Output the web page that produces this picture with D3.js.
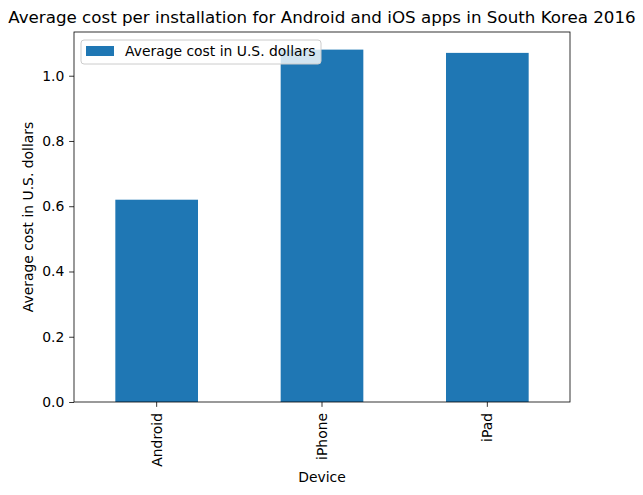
<!DOCTYPE html>
<html><head><meta charset="utf-8">
<script src="https://cdn.jsdelivr.net/npm/d3@7"></script>
<style>body{margin:0;background:#fff}svg{display:block;font-family:"DejaVu Sans",sans-serif}</style>
</head><body><svg id="c" width="643" height="495"></svg>
<script>
const categories = ["Android", "iPhone", "iPad"];
const values = [0.62, 1.08, 1.07];
const yTicks = [0.0, 0.2, 0.4, 0.6, 0.8, 1.0];
const seriesName = "Average cost in U.S. dollars";
const title = "Average cost per installation for Android and iOS apps in South Korea 2016";

const svg = d3.select("#c");
const L = 74, R = 570, T = 32, B = 402;
const x = d3.scaleBand().domain(categories).range([L, R]).paddingInner(0.5).paddingOuter(0.25);
const y = d3.scaleLinear().domain([0, d3.max(values) * 1.05]).range([B, T]);
const color = "#1f77b4";

svg.append("g").selectAll("rect").data(values).join("rect")
  .attr("x", (d, i) => x(categories[i]))
  .attr("y", d => y(d))
  .attr("width", x.bandwidth())
  .attr("height", d => B - y(d))
  .attr("fill", color);

const ya = svg.append("g").attr("transform", `translate(${L},0)`)
  .call(d3.axisLeft(y).tickValues(yTicks).tickFormat(d3.format(".1f")).tickSizeOuter(0).tickSize(4.86).tickPadding(4.86));
const xa = svg.append("g").attr("transform", `translate(0,${B})`)
  .call(d3.axisBottom(x).tickSizeOuter(0).tickSize(4.86).tickPadding(4.86));
[ya, xa].forEach(a => {
  a.select(".domain").remove();
  a.selectAll("text").attr("font-size", "13.9px").attr("fill", "#000").attr("font-family", "DejaVu Sans");
  a.selectAll("line").attr("stroke", "#000").attr("stroke-width", 0.8);
});
xa.selectAll("text")
  .attr("transform", "rotate(-90)")
  .attr("x", -11).attr("y", 0).attr("dy", "0.35em")
  .attr("text-anchor", "end");

svg.append("rect").attr("x", L).attr("y", T).attr("width", R - L).attr("height", B - T)
  .attr("fill", "none").attr("stroke", "#000").attr("stroke-width", 0.8);

svg.append("text").attr("x", 322).attr("y", 23).attr("text-anchor", "middle")
  .attr("font-size", "16.7px").text(title);
svg.append("text").attr("x", 322).attr("y", 482).attr("text-anchor", "middle")
  .attr("font-size", "13.9px").text("Device");
svg.append("text").attr("transform", `translate(33,${(T + B) / 2}) rotate(-90)`).attr("text-anchor", "middle")
  .attr("font-size", "13.9px").text("Average cost in U.S. dollars");

const lg = svg.append("g");
lg.append("rect").attr("x", 81).attr("y", 40).attr("width", 240).attr("height", 24).attr("rx", 3)
  .attr("fill", "#fff").attr("fill-opacity", 0.8).attr("stroke", "#ccc").attr("stroke-width", 1);
lg.append("rect").attr("x", 86).attr("y", 46).attr("width", 28).attr("height", 10).attr("fill", color);
lg.append("text").attr("x", 125).attr("y", 56).attr("font-size", "13.9px").text(seriesName);
</script></body></html>
